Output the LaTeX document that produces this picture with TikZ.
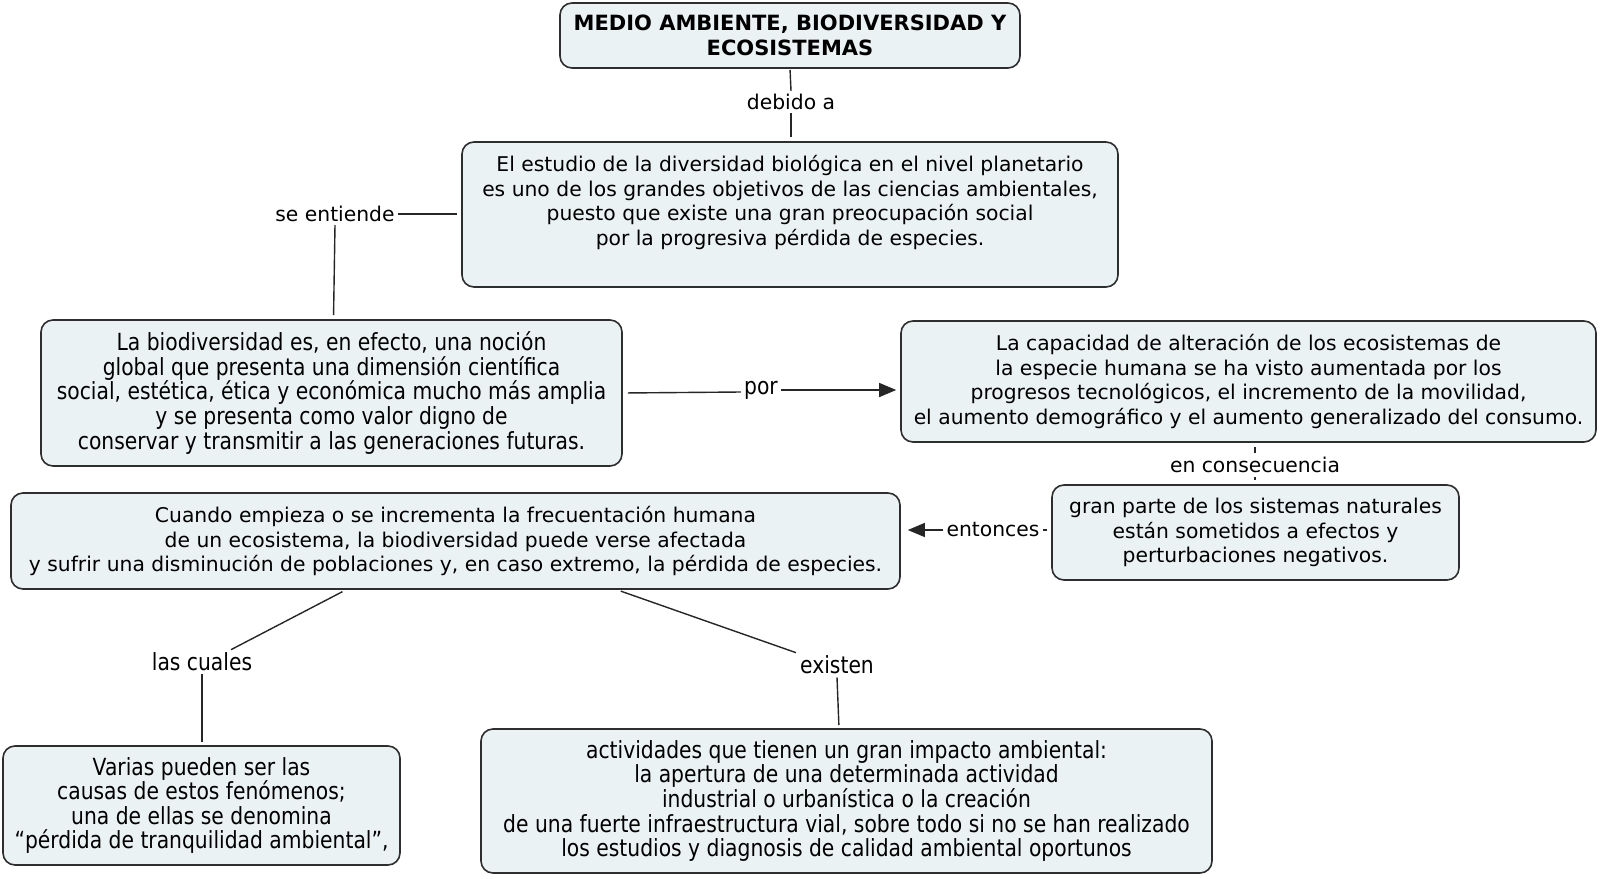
\documentclass[tikz,border=0pt]{standalone}
\usepackage{fontspec}
\setmainfont{DejaVu Sans}
\newfontfamily\condfont{DejaVu Sans}[FakeStretch=0.86]
\usetikzlibrary{arrows.meta,calc}
\definecolor{boxfill}{HTML}{EBF2F4}
\definecolor{boxline}{HTML}{2E2E2E}
\newcommand{\nfont}{\fontsize{20.3pt}{24.6pt}\selectfont}
\newcommand{\tfont}{\fontsize{21pt}{24.6pt}\selectfont\bfseries}
\newcommand{\cfont}{\condfont\fontsize{23.6pt}{24.6pt}\selectfont}
\tikzset{
  box/.style={draw=boxline, fill=boxfill, line width=1.6pt, rounded corners=12pt, inner sep=0pt, align=center},
  ntxt/.style={font=\nfont, align=center, inner sep=0pt},
  lbl/.style={font=\nfont, inner sep=3pt},
  clbl/.style={font=\cfont, inner sep=3pt},
  conn/.style={line width=1.4pt, draw=black!85},
  arr/.style={conn, -{Triangle[length=17pt,width=14pt]}},
}
\begin{document}
\begin{tikzpicture}[x=1pt,y=-1pt]
\useasboundingbox (0,0) rectangle (1600,878);
% boxes
\node[box, minimum width=460pt, minimum height=65pt, font=\tfont] (title) at (790,35.5)
  {MEDIO AMBIENTE, BIODIVERSIDAD Y\\ECOSISTEMAS};
\node[box, minimum width=656pt, minimum height=145pt] (b2) at (790,214.5) {};
\node[ntxt] (b2t) at (790,202.5)
  {El estudio de la diversidad biológica en el nivel planetario\\
   es uno de los grandes objetivos de las ciencias ambientales,\\
   puesto que existe una gran preocupación social\\
   por la progresiva pérdida de especies.};
\node[box, minimum width=581pt, minimum height=146pt, font=\cfont] (b3) at (331.5,393)
  {La biodiversidad es, en efecto, una noción\\
   global que presenta una dimensión científica\\
   social, estética, ética y económica mucho más amplia\\
   y se presenta como valor digno de\\
   conservar y transmitir a las generaciones futuras.};
\node[box, minimum width=695pt, minimum height=121pt, font=\nfont] (b4) at (1248.5,381.5)
  {La capacidad de alteración de los ecosistemas de\\
   la especie humana se ha visto aumentada por los\\
   progresos tecnológicos, el incremento de la movilidad,\\
   el aumento demográfico y el aumento generalizado del consumo.};
\node[box, minimum width=407pt, minimum height=95pt, font=\nfont] (b5) at (1255.5,532.5)
  {gran parte de los sistemas naturales\\
   están sometidos a efectos y\\
   perturbaciones negativos.};
\node[box, minimum width=889pt, minimum height=96pt, font=\nfont] (b6) at (455.5,541)
  {Cuando empieza o se incrementa la frecuentación humana\\
   de un ecosistema, la biodiversidad puede verse afectada\\
   y sufrir una disminución de poblaciones y, en caso extremo, la pérdida de especies.};
\node[box, minimum width=397pt, minimum height=119pt, font=\cfont] (b7) at (201.5,805.5)
  {Varias pueden ser las\\
   causas de estos fenómenos;\\
   una de ellas se denomina\\
   “pérdida de tranquilidad ambiental”,};
\node[box, minimum width=731pt, minimum height=144pt, font=\cfont] (b8) at (846.5,801)
  {actividades que tienen un gran impacto ambiental:\\
   la apertura de una determinada actividad\\
   industrial o urbanística o la creación\\
   de una fuerte infraestructura vial, sobre todo si no se han realizado\\
   los estudios y diagnosis de calidad ambiental oportunos};
% labels
\node[lbl] (debido) at (791,102) {debido a};
\node[lbl] (seent) at (335,214) {se entiende};
\node[clbl] (por) at (761,390) {por};
\node[lbl] (encons) at (1255,465) {en consecuencia};
\node[lbl] (entonces) at (993,530) {entonces};
\node[clbl] (lascuales) at (202,662) {las cuales};
\node[clbl] (existen) at (837,665) {existen};
% connectors
\draw[conn, shorten <=1pt] (title.south) -- (debido.north);
\draw[conn, shorten >=4pt] (debido.south) -- (debido.south |- b2.north);
\draw[conn, shorten >=4pt] (seent.east) -- (seent.east -| b2.west);
\draw[conn, shorten >=4pt] (seent.south) -- ([xshift=-1.5pt]seent.south |- b3.north);
\draw[conn, shorten <=5pt] (b3.east) -- ([yshift=-2pt]por.west);
\draw[arr, shorten >=4pt] (por.east) -- (por.east -| b4.west);
\draw[conn, shorten >=4pt, shorten <=1pt] (encons.north) -- (encons.north |- b4.south);
\draw[conn, shorten >=4pt, shorten <=1pt] (encons.south) -- (encons.south |- b5.north);
\draw[conn, shorten >=4pt] (entonces.east) -- (entonces.east -| b5.west);
\draw[arr, shorten >=7pt] (entonces.west) -- (entonces.west -| b6.east);
\draw[conn, shorten <=4pt] ([xshift=-109.5pt]b6.south) -- ([xshift=29pt]lascuales.north);
\draw[conn, shorten >=3pt] (lascuales.south) -- (lascuales.south |- b7.north);
\draw[conn, shorten <=4pt] ([xshift=161.5pt]b6.south) -- ([xshift=-41pt]existen.north);
\draw[conn, shorten >=3pt] (existen.south) -- ([xshift=2pt]existen.south |- b8.north);
\end{tikzpicture}
\end{document}
